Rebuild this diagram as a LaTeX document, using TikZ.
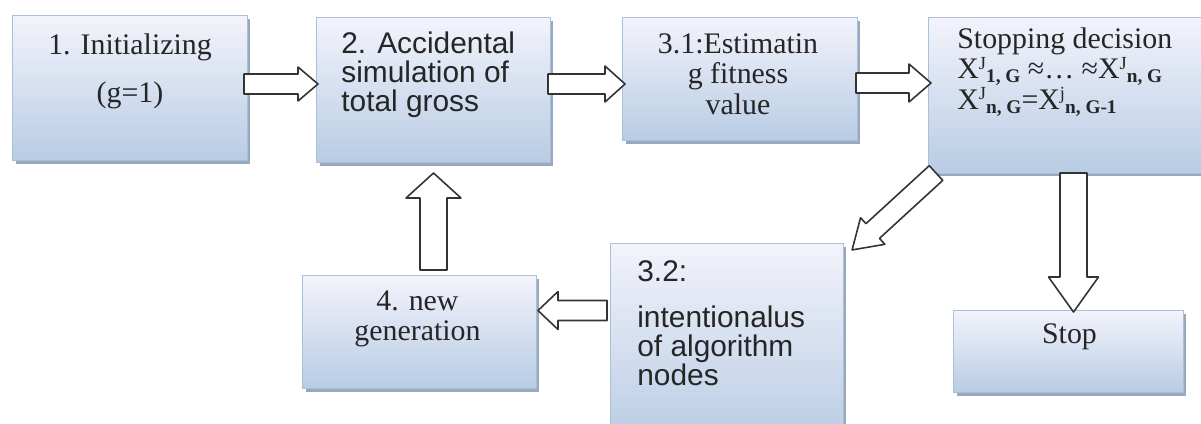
\documentclass[tikz,border=0pt]{standalone}
\usepackage{fontspec}
\setmainfont{Liberation Serif}
\setsansfont{Liberation Sans}
\usepackage{xcolor}
\usetikzlibrary{calc,positioning,shadows}

\definecolor{boxtop}{HTML}{F3F3FB}
\definecolor{boxbot}{HTML}{B8CCE4}
\definecolor{boxline}{HTML}{A9C0DD}
\definecolor{boxshade}{HTML}{98A8BE}
\definecolor{txtgray}{HTML}{262626}

\tikzset{
  stepbox/.style={rectangle, draw=boxline, line width=0.6pt, top color=boxtop, bottom color=boxbot,
    anchor=north west, inner sep=0pt,
    drop shadow={shadow xshift=0.06cm, shadow yshift=-0.06cm, fill=boxshade, opacity=1}},
  sertext/.style={font=\fontsize{17pt}{17.5pt}\selectfont, text=txtgray, inner sep=0pt, anchor=north, align=center},
  santext/.style={font=\sffamily\fontsize{17pt}{16.5pt}\selectfont, text=txtgray, inner sep=0pt, anchor=north west, align=left},
  fatarr/.style={draw=black!80, fill=white, line width=0.9pt, line join=round}
}

% X with index, as printed in the stopping box
\newcommand{\xidx}[2]{X\raisebox{0.7ex}{\fontsize{10.5pt}{10.5pt}\selectfont #1}\raisebox{-0.3ex}{\fontsize{11pt}{11pt}\selectfont\bfseries #2}}

% one picture pixel in pt
\newcommand{\pxu}{0.569055pt}

% hollow block arrow: from, to, half shaft, half head, head length (px)
\newcommand{\fatarrow}[5]{%
  \draw[fatarr] let \p1=(#1), \p2=(#2),
    \n1={atan2(\y2-\y1,\x2-\x1)}, \n2={veclen(\x2-\x1,\y2-\y1)} in
    [shift={(\p1)}, rotate=\n1]
    ({0pt},{-#3*\pxu}) -- ({\n2-#5*\pxu},{-#3*\pxu}) -- ({\n2-#5*\pxu},{-#4*\pxu})
    -- ({\n2},{0pt}) -- ({\n2-#5*\pxu},{#4*\pxu}) -- ({\n2-#5*\pxu},{#3*\pxu})
    -- ({0pt},{#3*\pxu}) -- cycle;}

\begin{document}
\begin{tikzpicture}[x=0.02cm, y=-0.02cm]

    \useasboundingbox (0,0) rectangle (1201,423);
    \fill[white] (0,0) rectangle (1201,423);

    %boxes
    \node[stepbox, minimum width=4.70cm, minimum height=2.90cm] (b1) at (12,15) {};
    \node[stepbox, minimum width=4.68cm, minimum height=2.90cm] (b2) at (316,17) {};
    \node[stepbox, minimum width=4.70cm, minimum height=2.46cm] (b31) at (622,17) {};
    \node[stepbox, minimum width=5.80cm, minimum height=3.12cm] (sd) at (928,17) {};
    \node[stepbox, minimum width=4.66cm, minimum height=4.00cm] (b32) at (610,243) {};
    \node[stepbox, minimum width=4.68cm, minimum height=2.26cm] (b4) at (302,275) {};
    \node[stepbox, minimum width=4.60cm, minimum height=1.64cm] (stop) at (953,310) {};

    %texts
    \node[sertext] (t1) at ($(b1.north)+(0,18)$) {1. Initializing\\[10pt](g=1)};
    \node[santext] (t2) at ($(b2.north west)+(25,15)$) {2. Accidental\\simulation of\\total gross};
    \node[sertext] (t31) at ($(b31.north)+(-2,16)$) {3.1:Estimatin\\g fitness\\value};
    \node[sertext, anchor=north west, align=left] (tsd) at ($(sd.north west)+(29,10)$)
        {Stopping decision\\\xidx{J}{1, G} ≈\ldots{} ≈\xidx{J}{n, G}\\\xidx{J}{n, G}=\xidx{j}{n, G-1}};
    \node[santext] (t32) at ($(b32.north west)+(27,17)$) {3.2:\\[10pt]intentionalus\\of algorithm\\nodes};
    \node[sertext] (t4) at ($(b4.north)+(-2,15)$) {4. new\\generation};
    \node[sertext] (tstop) at ($(stop.north)+(1,13)$) {Stop};

    %arrows
    \fatarrow{$(b1.east)+(-4,-4)$}{$(b2.west)+(2,-6)$}{10}{17}{20}
    \fatarrow{$(b2.east)+(-3,-6)$}{$(b31.west)+(3,5)$}{10}{18}{20}
    \fatarrow{$(b31.east)+(-2,4)$}{$(sd.west)+(3,-12.5)$}{10}{19}{22}
    \fatarrow{$(sd.south west)+(8,-1)$}{$(b32.north east)+(8,7)$}{10}{18}{28}
    \fatarrow{$(sd.south)+(0,-1)$}{$(sd.south |- stop.north)+(0,2)$}{13.5}{25}{35}
    \fatarrow{$(b32.west)+(-3,-33)$}{$(b4.east)+(1,-21.5)$}{10}{19}{20}
    \fatarrow{$(b2.south |- b4.north)+(0,-5)$}{$(b2.south)+(0,10)$}{13.5}{27.5}{25}

\end{tikzpicture}
\end{document}
